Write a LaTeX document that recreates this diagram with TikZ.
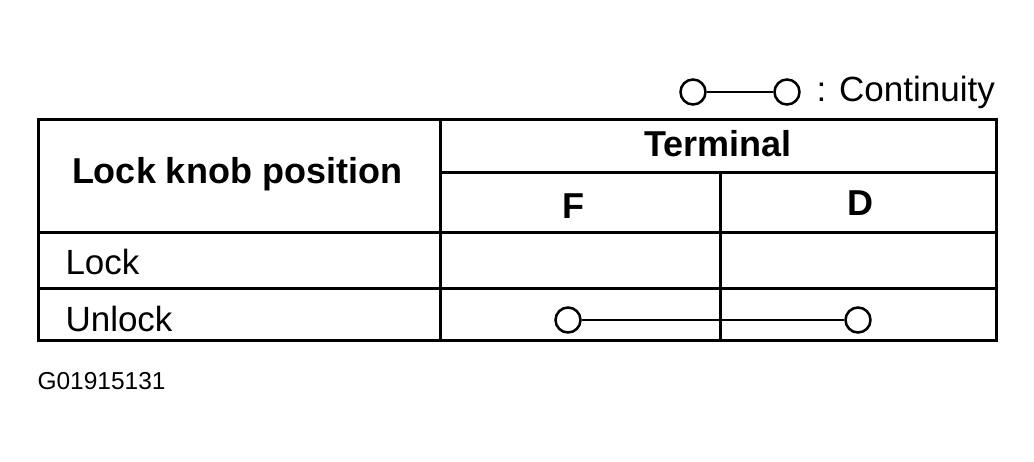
\documentclass[tikz,border=0pt]{standalone}
\usepackage{fontspec}
\setmainfont{Liberation Sans}
\usetikzlibrary{positioning}
\tikzset{
  hd/.style = {font=\fontsize{36}{40}\selectfont\bfseries},
  tx/.style = {font=\fontsize{35}{40}\selectfont},
  pin/.style = {circle, draw, line width=2.5pt, minimum size=25pt, inner sep=0pt},
  rule/.style = {line width=3pt}
}
\begin{document}
\begin{tikzpicture}[x=1pt,y=-1pt]
            \useasboundingbox (0,0) rectangle (1034,461);
            % table frame
            \draw[rule] (38,119) rectangle (996,340);
            \draw[rule] (440,119) -- (440,340);
            \draw[rule] (440,172) -- (996,172);
            \draw[rule] (720,172) -- (720,340);
            \draw[rule] (38,232) -- (996,232);
            \draw[rule] (38,288) -- (996,288);

            \node[hd] (knob) at (237,174) {Lock knob position};
            \node[hd] (term) at (718,144) {Terminal};
            \node[hd] (tf) at (573,206) {F};
            \node[hd] (td) at (860,203) {D};
            \node[tx,anchor=west] (lock) at (62,262) {Lock};
            \node[tx,anchor=west] (unlock) at (62,319) {Unlock};

            % continuity
            \node[pin] (pf) at (568,320) {};
            \node[pin] (pd) at (858,320) {};
            \draw[line width=2pt] (pf) -- (pd);

            % legend
            \node[pin] (la) at (693,92) {};
            \node[pin] (lb) at (787,92) {};
            \draw[line width=2pt] (la) -- (lb);
            \node[tx,anchor=west] (cont) at (813,92) {: Continuity};

            \node[font=\fontsize{24.5}{28}\selectfont,anchor=west] (code) at (34,381) {G01915131};
\end{tikzpicture}
\end{document}
